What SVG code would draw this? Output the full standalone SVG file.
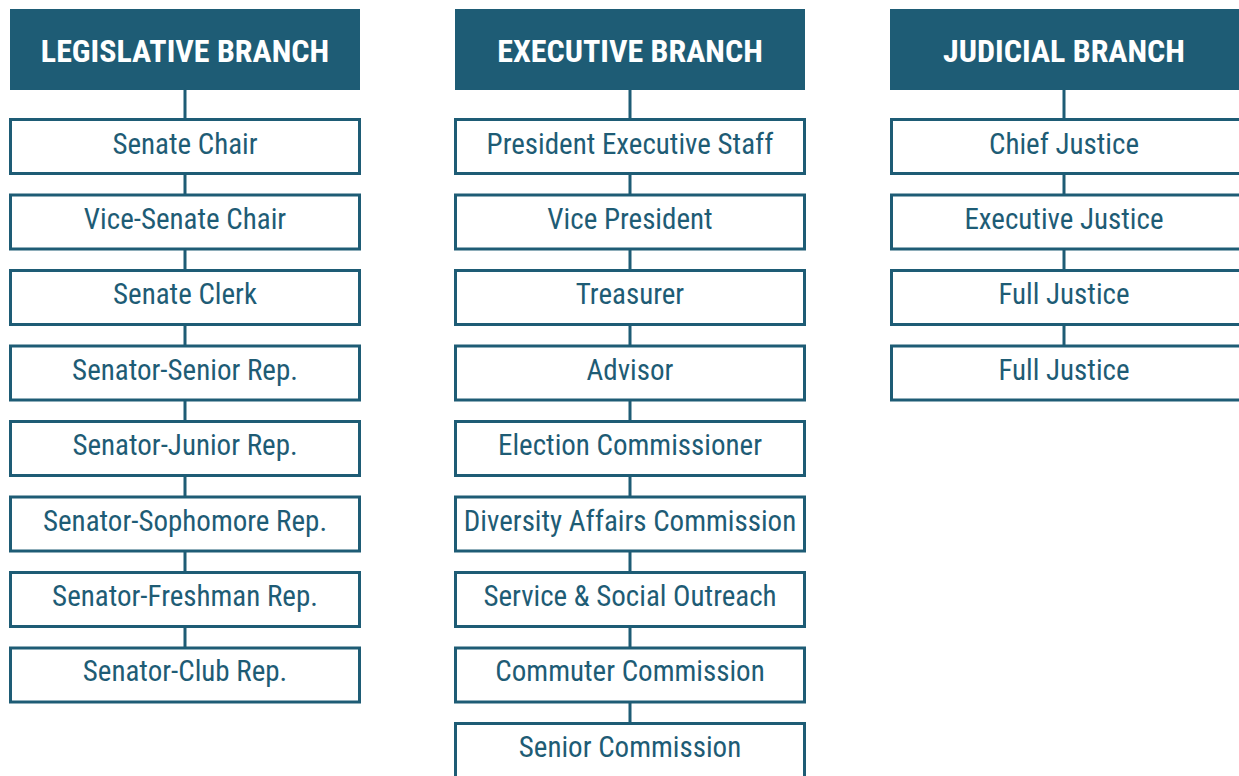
<svg xmlns="http://www.w3.org/2000/svg" width="1239" height="776" viewBox="0 0 1239 776">
<style>
.hdr{fill:#1e5c75}
.hdrt{fill:#ffffff;font-family:"Liberation Sans Narrow","Roboto Condensed","DejaVu Sans Condensed","Liberation Sans",sans-serif;font-weight:bold;font-size:32px;text-anchor:middle}
.box{fill:#ffffff;stroke:#1e5c75;stroke-width:3}
.bt{fill:#1e5c75;font-family:"Liberation Sans Narrow","Roboto Condensed","DejaVu Sans Condensed","Liberation Sans",sans-serif;font-size:29px;text-anchor:middle}
.con{stroke:#1e5c75;stroke-width:3;fill:none}
</style>
<rect width="1239" height="776" fill="#ffffff"/>
<g id="connectors">
<path class="con" d="M185,90V118 M185,175V194 M185,249V269 M185,325V345 M185,400V420 M185,476V496 M185,552V571 M185,627V647"/>
<path class="con" d="M630,90V118 M630,175V194 M630,249V269 M630,325V345 M630,400V420 M630,476V496 M630,552V571 M630,627V647 M630,703V722"/>
<path class="con" d="M1064,90V118 M1064,175V194 M1064,249V269 M1064,325V345"/>
</g>
<g id="legislative-header"><rect class="hdr" x="10" y="9" width="350" height="81"/><text class="hdrt" x="185" y="62">LEGISLATIVE BRANCH</text></g>
<g id="executive-header"><rect class="hdr" x="455" y="9" width="350" height="81"/><text class="hdrt" x="630" y="62">EXECUTIVE BRANCH</text></g>
<g id="judicial-header"><rect class="hdr" x="890" y="9" width="352" height="81"/><text class="hdrt" x="1064" y="62">JUDICIAL BRANCH</text></g>

<g id="l1"><rect class="box" x="10.5" y="119.5" width="349" height="54"/><text class="bt" x="185" y="154">Senate Chair</text></g>
<g id="l2"><rect class="box" x="10.5" y="195" width="349" height="54"/><text class="bt" x="185" y="229">Vice-Senate Chair</text></g>
<g id="l3"><rect class="box" x="10.5" y="270.5" width="349" height="54"/><text class="bt" x="185" y="304">Senate Clerk</text></g>
<g id="l4"><rect class="box" x="10.5" y="346" width="349" height="54"/><text class="bt" x="185" y="379.5">Senator-Senior Rep.</text></g>
<g id="l5"><rect class="box" x="10.5" y="421.5" width="349" height="54"/><text class="bt" x="185" y="455">Senator-Junior Rep.</text></g>
<g id="l6"><rect class="box" x="10.5" y="497" width="349" height="54"/><text class="bt" x="185" y="530.5">Senator-Sophomore Rep.</text></g>
<g id="l7"><rect class="box" x="10.5" y="572.5" width="349" height="54"/><text class="bt" x="185" y="606">Senator-Freshman Rep.</text></g>
<g id="l8"><rect class="box" x="10.5" y="648" width="349" height="54"/><text class="bt" x="185" y="681">Senator-Club Rep.</text></g>

<g id="e1"><rect class="box" x="455.5" y="119.5" width="349" height="54"/><text class="bt" x="630" y="154">President Executive Staff</text></g>
<g id="e2"><rect class="box" x="455.5" y="195" width="349" height="54"/><text class="bt" x="630" y="229">Vice President</text></g>
<g id="e3"><rect class="box" x="455.5" y="270.5" width="349" height="54"/><text class="bt" x="630" y="304">Treasurer</text></g>
<g id="e4"><rect class="box" x="455.5" y="346" width="349" height="54"/><text class="bt" x="630" y="379.5">Advisor</text></g>
<g id="e5"><rect class="box" x="455.5" y="421.5" width="349" height="54"/><text class="bt" x="630" y="455">Election Commissioner</text></g>
<g id="e6"><rect class="box" x="455.5" y="497" width="349" height="54"/><text class="bt" x="630" y="530.5">Diversity Affairs Commission</text></g>
<g id="e7"><rect class="box" x="455.5" y="572.5" width="349" height="54"/><text class="bt" x="630" y="606">Service &amp; Social Outreach</text></g>
<g id="e8"><rect class="box" x="455.5" y="648" width="349" height="54"/><text class="bt" x="630" y="681">Commuter Commission</text></g>
<g id="e9"><rect class="box" x="455.5" y="723.5" width="349" height="54"/><text class="bt" x="630" y="756.5">Senior Commission</text></g>

<g id="j1"><rect class="box" x="891.5" y="119.5" width="352" height="54"/><text class="bt" x="1064" y="154">Chief Justice</text></g>
<g id="j2"><rect class="box" x="891.5" y="195" width="352" height="54"/><text class="bt" x="1064" y="229">Executive Justice</text></g>
<g id="j3"><rect class="box" x="891.5" y="270.5" width="352" height="54"/><text class="bt" x="1064" y="304">Full Justice</text></g>
<g id="j4"><rect class="box" x="891.5" y="346" width="352" height="54"/><text class="bt" x="1064" y="379.5">Full Justice</text></g>
</svg>
